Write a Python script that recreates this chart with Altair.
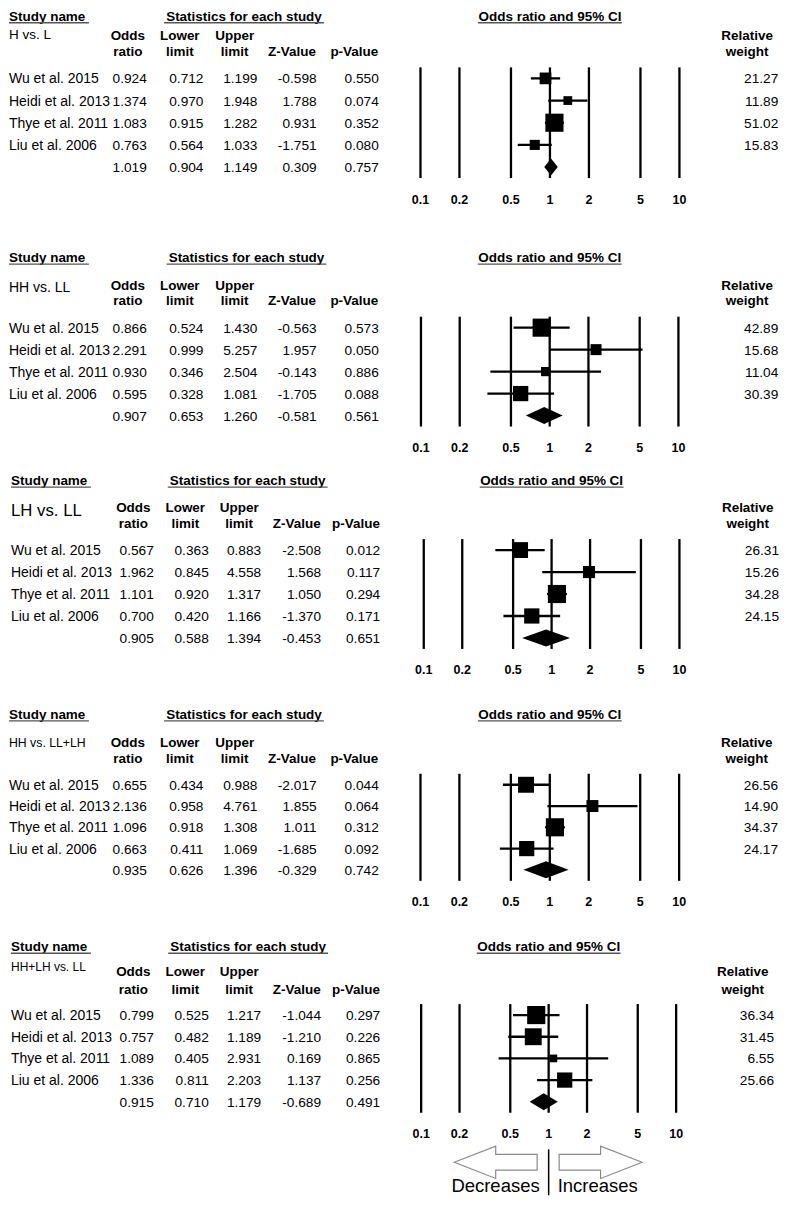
import altair as alt
import pandas as pd

# ---------------- data ----------------
comparisons = ["H vs. L", "HH vs. LL", "LH vs. LL", "HH vs. LL+LH", "HH+LH vs. LL"]
studies = ["Wu et al. 2015", "Heidi et al. 2013", "Thye et al. 2011", "Liu et al. 2006"]

odds_ratio = [
    [0.924, 1.374, 1.083, 0.763, 1.019],
    [0.866, 2.291, 0.930, 0.595, 0.907],
    [0.567, 1.962, 1.101, 0.700, 0.905],
    [0.655, 2.136, 1.096, 0.663, 0.935],
    [0.799, 0.757, 1.089, 1.336, 0.915],
]
lower_limit = [
    [0.712, 0.970, 0.915, 0.564, 0.904],
    [0.524, 0.999, 0.346, 0.328, 0.653],
    [0.363, 0.845, 0.920, 0.420, 0.588],
    [0.434, 0.958, 0.918, 0.411, 0.626],
    [0.525, 0.482, 0.405, 0.811, 0.710],
]
upper_limit = [
    [1.199, 1.948, 1.282, 1.033, 1.149],
    [1.430, 5.257, 2.504, 1.081, 1.260],
    [0.883, 4.558, 1.317, 1.166, 1.394],
    [0.988, 4.761, 1.308, 1.069, 1.396],
    [1.217, 1.189, 2.931, 2.203, 1.179],
]
z_value = [
    [-0.598, 1.788, 0.931, -1.751, 0.309],
    [-0.563, 1.957, -0.143, -1.705, -0.581],
    [-2.508, 1.568, 1.050, -1.370, -0.453],
    [-2.017, 1.855, 1.011, -1.685, -0.329],
    [-1.044, -1.210, 0.169, 1.137, -0.689],
]
p_value = [
    [0.550, 0.074, 0.352, 0.080, 0.757],
    [0.573, 0.050, 0.886, 0.088, 0.561],
    [0.012, 0.117, 0.294, 0.171, 0.651],
    [0.044, 0.064, 0.312, 0.092, 0.742],
    [0.297, 0.226, 0.865, 0.256, 0.491],
]
relative_weight = [
    [21.27, 11.89, 51.02, 15.83],
    [42.89, 15.68, 11.04, 30.39],
    [26.31, 15.26, 34.28, 24.15],
    [26.56, 14.90, 34.37, 24.17],
    [36.34, 31.45, 6.55, 25.66],
]
tick_values = [0.1, 0.2, 0.5, 1, 2, 5, 10]
tick_labels = ["0.1", "0.2", "0.5", "1", "2", "5", "10"]

header_study = "Study name"
header_stats = "Statistics for each study"
header_ci = "Odds ratio and 95% CI"
col_head_top = ["Odds", "Lower", "Upper", "", ""]
col_head_bottom = ["ratio", "limit", "limit", "Z-Value", "p-Value"]
weight_head = ["Relative", "weight"]
direction_labels = ["Decreases", "Increases"]

# ---------------- layout (pixels, page coordinates) ----------------
FONT = "Liberation Sans"
W = 771
panel_top = [8, 257, 480, 714, 947]
panel_height = [249, 223, 234, 233, 249]
S_abs = [6.5, 256.7, 480, 714, 946.7]
label_size = [13.5, 14, 16.8, 12.3, 12]
label_dy = [26.5, 30, 30, 27.7, 19.5]
hdr1_dy = [27.8, 28.3, 26.7, 28, 24.5]
hdr2_dy = [44, 43.3, 42.7, 44, 42.5]
row0_dy = [71.2, 70.6, 70, 71, 68.9]
row_step = [22.2, 22, 22, 21.3, 21.7]
name_x = [8, 8, 10, 8, 10]
cols_A = [146, 202.7, 256.7, 316, 378.3]
cols_B = [153, 208, 260.5, 320.5, 379.7]
hcols_A = [127, 179, 234, 291.3, 353.8]
hcols_B = [132.5, 184.5, 238.5, 296.2, 355.5]
col_set = ["A", "A", "B", "A", "B"]
stats_c = [243.3, 245.8, 247, 243.3, 247.5]
forest_px = [(420, 679.3), (420.5, 678.3), (423.3, 679.3), (420, 679), (420.7, 676)]
weight_x = [778.3, 778.3, 779, 778, 774]

LEFT_ARROW = "M-1,0L0,-0.39L0,-0.19L1,-0.19L1,0.19L0,0.19L0,0.39Z"
RIGHT_ARROW = "M1,0L0,-0.39L0,-0.19L-1,-0.19L-1,0.19L0,0.19L0,0.39Z"

one = pd.DataFrame({"k": [0]})


def txt(t, x, y, align="center", size=13.5, weight="normal", baseline="middle", dy=1, dx=0):
    return alt.Chart(pd.DataFrame({"t": [t]})).mark_text(
        align=align, baseline=baseline, font=FONT, fontSize=size,
        fontWeight=weight, color="black", dy=dy, dx=dx
    ).encode(x=alt.value(x), y=alt.value(y), text="t:N")


def hrule(x1, x2, y, color="#555555", width=1.4):
    return alt.Chart(one).mark_rule(color=color, strokeWidth=width).encode(
        x=alt.value(x1), x2=alt.value(x2), y=alt.value(y))


def panel(i):
    T = panel_top[i]
    ry = lambda a: a - T
    rx = lambda a: a - 8
    S = S_abs[i]
    hS = max(S, 15)
    r0 = S + row0_dy[i]
    r4 = r0 + 4 * row_step[i]
    f0, f1 = forest_px[i]
    one_x = (f0 + f1) / 2
    cols = cols_A if col_set[i] == "A" else cols_B
    hcols = hcols_A if col_set[i] == "A" else hcols_B

    yscale = alt.Scale(domain=[0, 4], range=[ry(r0), ry(r4)], nice=False, zero=False)
    xscale = alt.Scale(type="log", domain=[0.1, 10], range=[rx(f0), rx(f1)], nice=False)

    df = pd.DataFrame({
        "row": [0, 1, 2, 3, 4],
        "name": studies + [""],
        "or": odds_ratio[i],
        "lo": lower_limit[i],
        "hi": upper_limit[i],
        "or_s": [f"{v:.3f}" for v in odds_ratio[i]],
        "lo_s": [f"{v:.3f}" for v in lower_limit[i]],
        "hi_s": [f"{v:.3f}" for v in upper_limit[i]],
        "z_s": [f"{v:.3f}" for v in z_value[i]],
        "p_s": [f"{v:.3f}" for v in p_value[i]],
        "w_s": [f"{v:.2f}" for v in relative_weight[i]] + [""],
    })
    sdf = df.iloc[:4].copy()
    sdf["w"] = relative_weight[i]
    wmax = max(relative_weight[i])

    d = 8.5 / row_step[i]
    dia = pd.DataFrame({
        "x": [lower_limit[i][4], odds_ratio[i][4], upper_limit[i][4]],
        "y1": [4, 4 - d, 4],
        "y2": [4, 4 + d, 4],
    })
    ticks = pd.DataFrame({"v": tick_values, "lab": tick_labels})

    layers = []
    # headers
    layers.append(txt(header_study, rx(name_x[i]), ry(hS), "left", 13.5, "bold"))
    layers.append(hrule(rx(name_x[i]), rx(name_x[i] + 80), ry(hS + 7)))
    layers.append(txt(header_stats, rx(stats_c[i]), ry(hS), "center", 13.5, "bold"))
    layers.append(hrule(rx(stats_c[i] - 80), rx(stats_c[i] + 80), ry(hS + 7)))
    layers.append(txt(header_ci, rx(one_x), ry(hS), "center", 13.5, "bold"))
    layers.append(hrule(rx(one_x - 72), rx(one_x + 72), ry(hS + 7)))
    layers.append(txt(comparisons[i], rx(name_x[i]), ry(S + label_dy[i]), "left", label_size[i]))
    for k in range(5):
        if col_head_top[k]:
            layers.append(txt(col_head_top[k], rx(hcols[k]), ry(S + hdr1_dy[i]), "center", 13.5, "bold"))
        layers.append(txt(col_head_bottom[k], rx(hcols[k]), ry(S + hdr2_dy[i]), "center", 13.5, "bold"))
    wc = weight_x[i] - 31.3
    layers.append(txt(weight_head[0], rx(wc), ry(S + hdr1_dy[i]), "center", 13.5, "bold"))
    layers.append(txt(weight_head[1], rx(wc), ry(S + hdr2_dy[i]), "center", 13.5, "bold"))

    # table columns
    def col_layer(field, x, align, size):
        return alt.Chart(df).mark_text(
            align=align, baseline="middle", font=FONT, fontSize=size, color="black", dy=1
        ).encode(x=alt.value(x), y=alt.Y("row:Q", scale=yscale, axis=None), text=f"{field}:N")

    layers.append(col_layer("name", rx(name_x[i]), "left", 14))
    for k, f in enumerate(["or_s", "lo_s", "hi_s", "z_s", "p_s"]):
        layers.append(col_layer(f, rx(cols[k]), "right", 13.7))
    layers.append(col_layer("w_s", rx(weight_x[i]), "right", 13.7))

    # forest plot
    layers.append(alt.Chart(ticks).mark_rule(color="black", strokeWidth=2.3).encode(
        x=alt.X("v:Q", scale=xscale, axis=None),
        y=alt.value(ry(r0 - 11)), y2=alt.value(ry(r4 + 11))))
    layers.append(alt.Chart(ticks).mark_text(
        align="center", baseline="middle", font=FONT, fontSize=12.5, fontWeight="bold",
        color="black", dy=1).encode(
        x=alt.X("v:Q", scale=xscale, axis=None), y=alt.value(ry(r4 + 31.5)), text="lab:N"))
    layers.append(alt.Chart(sdf).mark_rule(color="black", strokeWidth=2.3).encode(
        x=alt.X("lo:Q", scale=xscale, axis=None), x2="hi:Q",
        y=alt.Y("row:Q", scale=yscale, axis=None)))
    layers.append(alt.Chart(sdf).mark_square(color="black", opacity=1, filled=True).encode(
        x=alt.X("or:Q", scale=xscale, axis=None),
        y=alt.Y("row:Q", scale=yscale, axis=None),
        size=alt.Size("w:Q", scale=alt.Scale(domain=[0, wmax], range=[0, 330]), legend=None)))
    layers.append(alt.Chart(dia).mark_area(color="black", opacity=1, orient="vertical").encode(
        x=alt.X("x:Q", scale=xscale, axis=None),
        y=alt.Y("y1:Q", scale=yscale, axis=None), y2="y2:Q"))

    if i == 4:
        ac = 1163
        layers.append(alt.Chart(one).mark_point(
            shape=LEFT_ARROW, size=6889, filled=False, stroke="#8a8a8a", strokeWidth=1.2, opacity=1
        ).encode(x=alt.value(rx(one_x - 53)), y=alt.value(ry(ac))))
        layers.append(alt.Chart(one).mark_point(
            shape=RIGHT_ARROW, size=6889, filled=False, stroke="#8a8a8a", strokeWidth=1.2, opacity=1
        ).encode(x=alt.value(rx(one_x + 52)), y=alt.value(ry(ac))))
        layers.append(alt.Chart(one).mark_rule(color="black", strokeWidth=1.5).encode(
            x=alt.value(rx(one_x)), y=alt.value(ry(1150)), y2=alt.value(ry(1196))))
        layers.append(txt(direction_labels[0], rx(one_x), ry(1193), "right", 18.5,
                          baseline="alphabetic", dy=0, dx=-9))
        layers.append(txt(direction_labels[1], rx(one_x), ry(1193), "left", 18.5,
                          baseline="alphabetic", dy=0, dx=9))

    return alt.layer(*layers).properties(width=W, height=panel_height[i])


chart = alt.vconcat(
    *[panel(i) for i in range(5)], spacing=0, bounds="flush", padding=0
).resolve_scale(
    x="independent", y="independent", size="independent"
).configure(font=FONT, view=alt.ViewConfig(stroke=None))

chart.save("out.html", embed_options={"renderer": "svg", "actions": False})
